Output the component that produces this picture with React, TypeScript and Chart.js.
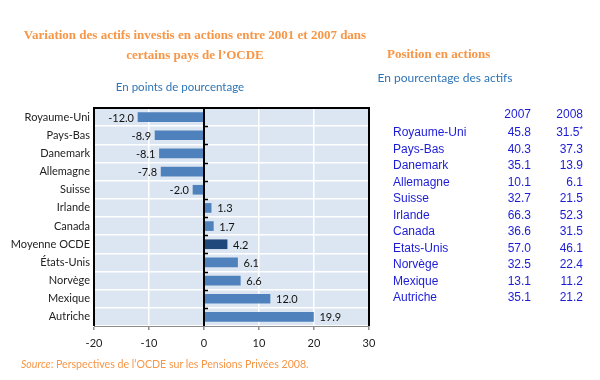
import React, { useEffect, useRef } from "react";
import { Chart, registerables } from "chart.js";

Chart.register(...registerables);

const categories = [
  "Royaume-Uni", "Pays-Bas", "Danemark", "Allemagne", "Suisse", "Irlande",
  "Canada", "Moyenne OCDE", "États-Unis", "Norvège", "Mexique", "Autriche",
];
const changes = [-12.0, -8.9, -8.1, -7.8, -2.0, 1.3, 1.7, 4.2, 6.1, 6.6, 12.0, 19.9];
const highlight = "Moyenne OCDE";

const xTicks = [-20, -10, 0, 10, 20, 30];

const tableCountries = [
  "Royaume-Uni", "Pays-Bas", "Danemark", "Allemagne", "Suisse", "Irlande",
  "Canada", "Etats-Unis", "Norvège", "Mexique", "Autriche",
];
const pos2007 = [45.8, 40.3, 35.1, 10.1, 32.7, 66.3, 36.6, 57.0, 32.5, 13.1, 35.1];
const pos2008 = [31.5, 37.3, 13.9, 6.1, 21.5, 52.3, 31.5, 46.1, 22.4, 11.2, 21.2];
const notes2008 = ["*", "", "", "", "", "", "", "", "", "", ""];
const tableYears = ["2007", "2008"];

const ORANGE = "#f79646";
const TITLE_BLUE = "#2e75b6";
const TABLE_BLUE = "#1c1cd6";
const BAR = "#4f81bd";
const BAR_DARK = "#1f497d";
const PLOT_BG = "#dce6f2";

const framePlugin = {
  id: "frame",
  beforeDraw(chart: any) {
    const { ctx, chartArea: a } = chart;
    ctx.save();
    ctx.fillStyle = PLOT_BG;
    ctx.fillRect(a.left, a.top, a.right - a.left, a.bottom - a.top);
    ctx.restore();
  },
  afterDatasetsDraw(chart: any) {
    const { ctx, chartArea: a, scales } = chart;
    const x0 = Math.round(scales.x.getPixelForValue(0));
    ctx.save();
    ctx.strokeStyle = "#000";
    ctx.lineWidth = 2;
    ctx.beginPath();
    ctx.moveTo(a.left, a.bottom);
    ctx.lineTo(a.left, a.top);
    ctx.lineTo(a.right, a.top);
    ctx.lineTo(a.right, a.bottom);
    ctx.moveTo(x0, a.top);
    ctx.lineTo(x0, a.bottom);
    ctx.stroke();
    // category ticks on the zero line
    const n = categories.length;
    const band = (a.bottom - a.top) / n;
    ctx.lineWidth = 1.5;
    ctx.beginPath();
    for (let i = 1; i < n; i++) {
      const y = Math.round(a.top + band * i) + 0.5;
      ctx.moveTo(x0, y);
      ctx.lineTo(x0 + 4, y);
    }
    ctx.stroke();
    // data labels
    ctx.fillStyle = "#111";
    ctx.font = "11px Lato";
    ctx.textBaseline = "middle";
    changes.forEach((v, i) => {
      const x = scales.x.getPixelForValue(v);
      const y = scales.y.getPixelForValue(i) + 1;
      const t = v.toFixed(1);
      if (v < 0) {
        ctx.textAlign = "right";
        ctx.fillText(t, x - 4, y);
      } else {
        ctx.textAlign = "left";
        ctx.fillText(t, x + 6, y);
      }
    });
    ctx.restore();
  },
};

function BarChart() {
  const ref = useRef<HTMLCanvasElement | null>(null);
  useEffect(() => {
    if (!ref.current) return;
    const chart = new Chart(ref.current, {
      type: "bar",
      data: {
        labels: categories,
        datasets: [
          {
            data: changes,
            backgroundColor: categories.map((c) => (c === highlight ? BAR_DARK : BAR)),
            barThickness: 9,
            borderWidth: 0,
          },
        ],
      },
      plugins: [framePlugin],
      options: {
        indexAxis: "y",
        responsive: false,
        animation: false,
        devicePixelRatio: 1,
        layout: { padding: { left: 0, top: 108, right: 231, bottom: 0 } },
        plugins: { legend: { display: false }, tooltip: { enabled: false } },
        scales: {
          x: {
            min: xTicks[0],
            max: xTicks[xTicks.length - 1],
            afterBuildTicks: (s: any) => {
              s.ticks = xTicks.map((v) => ({ value: v }));
            },
            afterFit: (s: any) => {
              s.height = 54;
            },
            grid: {
              color: "#ffffff",
              lineWidth: 1.5,
              tickLength: 4,
              tickColor: "#8c8c8c",
            },
            border: { display: true, color: "#8c8c8c", width: 1 },
            ticks: {
              color: "#222",
              font: { family: "Lato", size: 11 },
              padding: 7,
            },
          },
          y: {
            afterFit: (s: any) => {
              s.width = 94;
            },
            grid: { color: "#ffffff", lineWidth: 1.5, drawTicks: false },
            border: { display: false },
            ticks: {
              color: "#222",
              font: { family: "Lato", size: 11 },
              padding: 4,
            },
          },
        },
      },
    } as any);
    return () => chart.destroy();
  }, []);
  return (
    <canvas
      ref={ref}
      width={600}
      height={380}
      style={{ position: "absolute", left: 0, top: 0, width: 600, height: 380 }}
    />
  );
}

const abs = (o: any): React.CSSProperties => ({ position: "absolute", whiteSpace: "nowrap", ...o });

export default function App() {
  const rowTop = 125;
  const rowH = 16.5;
  const tableFont = "12px 'Liberation Sans', Arial, sans-serif";
  return (
    <div style={{ position: "fixed", left: 0, top: 0, width: 600, height: 380, background: "#fff", overflow: "hidden" }}>
      <BarChart />
      <div
        style={abs({
          left: 0,
          width: 390,
          top: 25,
          textAlign: "center",
          color: ORANGE,
          font: "bold 13px 'Liberation Serif', serif",
          lineHeight: "20px",
        })}
      >
        Variation des actifs investis en actions entre 2001 et 2007 dans
        <br />
        certains pays de l’OCDE
      </div>
      <div style={abs({ left: 80, width: 200, top: 80, textAlign: "center", color: TITLE_BLUE, font: "11.5px Lato" })}>
        En points de pourcentage
      </div>
      <div style={abs({ left: 387, width: 100, top: 46, textAlign: "center", color: ORANGE, font: "bold 13px 'Liberation Serif', serif" })}>
        Position en actions
      </div>
      <div style={abs({ left: 375, width: 140, top: 70, textAlign: "center", color: TITLE_BLUE, font: "12px Lato" })}>
        En pourcentage des actifs
      </div>
      {tableYears.map((y, j) => (
        <div key={y} style={abs({ left: j === 0 ? 471 : 523, width: 60, top: 107, textAlign: "right", color: TABLE_BLUE, font: tableFont })}>
          {y}
        </div>
      ))}
      {tableCountries.map((c, i) => (
        <React.Fragment key={c}>
          <div style={abs({ left: 393, top: rowTop + i * rowH, color: TABLE_BLUE, font: tableFont })}>{c}</div>
          <div style={abs({ left: 471, width: 60, top: rowTop + i * rowH, textAlign: "right", color: TABLE_BLUE, font: tableFont })}>
            {pos2007[i].toFixed(1)}
          </div>
          <div style={abs({ left: 523, width: 60, top: rowTop + i * rowH, textAlign: "right", color: TABLE_BLUE, font: tableFont })}>
            {pos2008[i].toFixed(1)}
            {notes2008[i] ? (
              <span style={{ fontSize: 9, verticalAlign: "top", position: "relative", top: -1 }}>{notes2008[i]}</span>
            ) : null}
          </div>
        </React.Fragment>
      ))}
      <div style={abs({ left: 21, top: 358, color: ORANGE, font: "10.6px Lato" })}>
        <i>Source</i>: Perspectives de l’OCDE sur les Pensions Privées 2008.
      </div>
    </div>
  );
}
